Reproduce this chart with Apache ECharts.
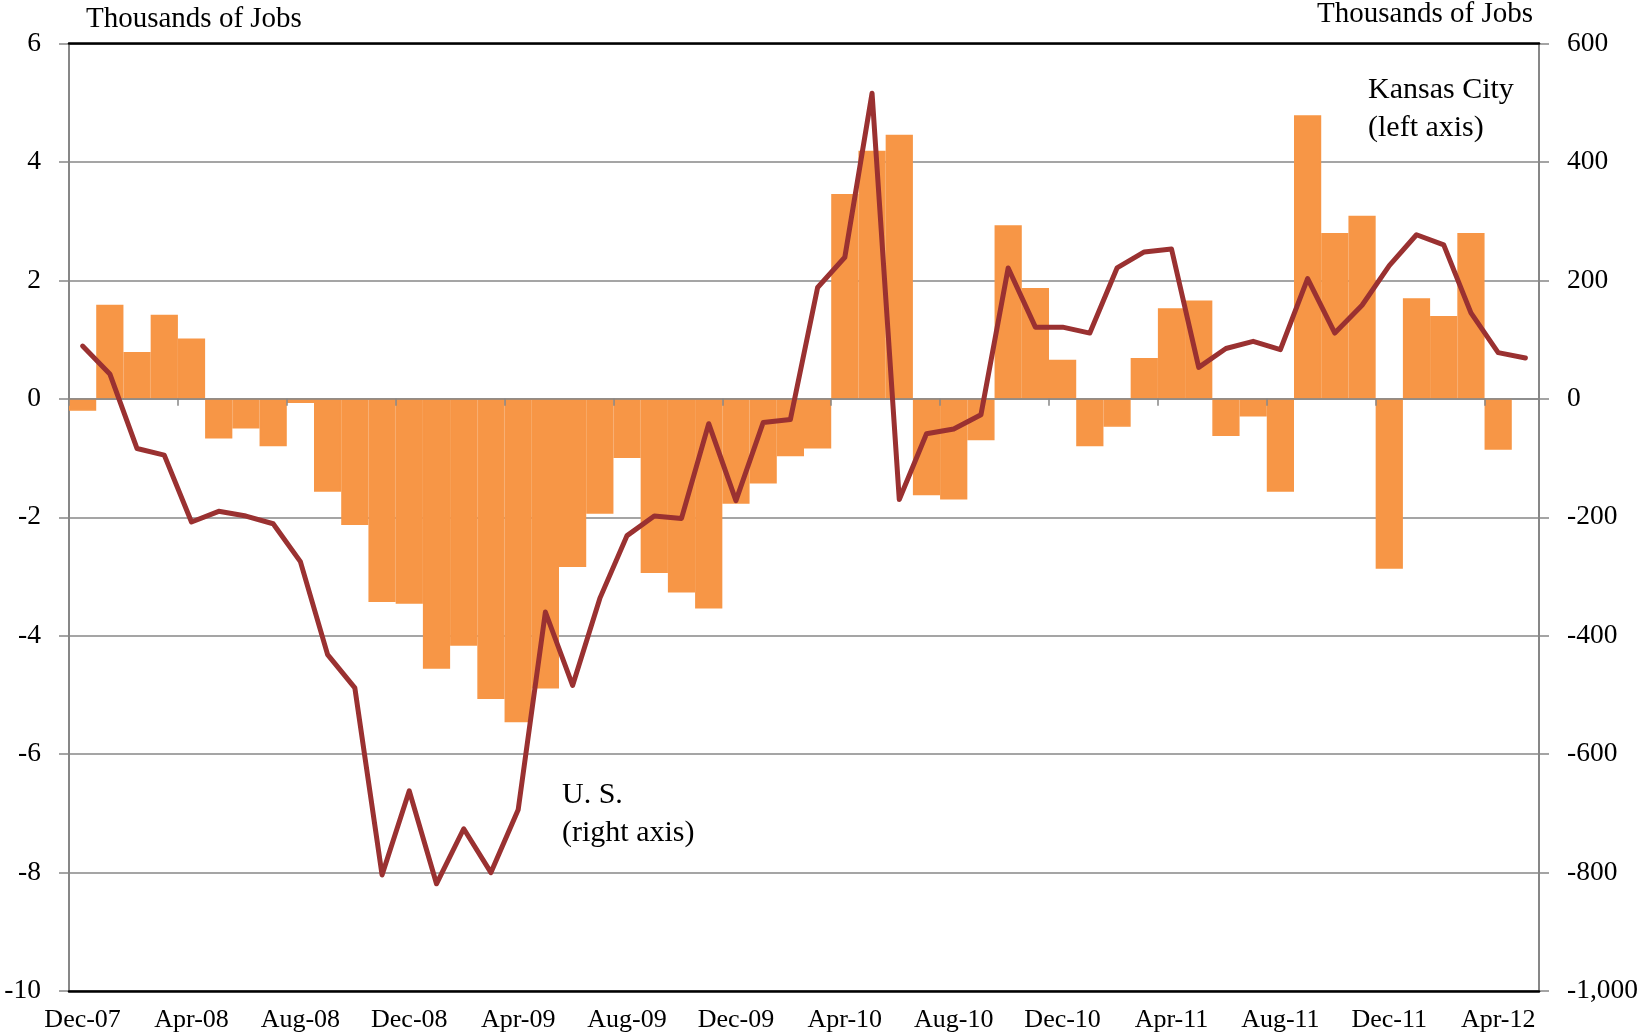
<!DOCTYPE html>
<html>
<head>
<meta charset="utf-8">
<script src="https://cdn.jsdelivr.net/npm/echarts@6/dist/echarts.min.js"></script>
<style>
  html, body { margin: 0; padding: 0; background: #fff; }
  #chart { width: 1644px; height: 1036px; }
</style>
</head>
<body>
<div id="chart"></div>
<script>
// ---- Data ----
const categories = [
  'Dec-07',
  'Jan-08','Feb-08','Mar-08','Apr-08','May-08','Jun-08','Jul-08','Aug-08','Sep-08','Oct-08','Nov-08','Dec-08',
  'Jan-09','Feb-09','Mar-09','Apr-09','May-09','Jun-09','Jul-09','Aug-09','Sep-09','Oct-09','Nov-09','Dec-09',
  'Jan-10','Feb-10','Mar-10','Apr-10','May-10','Jun-10','Jul-10','Aug-10','Sep-10','Oct-10','Nov-10','Dec-10',
  'Jan-11','Feb-11','Mar-11','Apr-11','May-11','Jun-11','Jul-11','Aug-11','Sep-11','Oct-11','Nov-11','Dec-11',
  'Jan-12','Feb-12','Mar-12','Apr-12','May-12'
];

// Kansas City, thousands of jobs (left axis) - no value for the last month
const kansasCity = [
  -0.20, 1.59, 0.79, 1.42, 1.02, -0.67, -0.50, -0.80, -0.07, -1.57,
  -2.13, -3.43, -3.46, -4.56, -4.17, -5.07, -5.46, -4.89, -2.84, -1.94,
  -1.00, -2.94, -3.27, -3.54, -1.77, -1.43, -0.97, -0.84, 3.46, 4.19,
  4.46, -1.63, -1.70, -0.70, 2.93, 1.87, 0.66, -0.80, -0.47, 0.69,
  1.53, 1.66, -0.63, -0.30, -1.57, 4.79, 2.80, 3.09, -2.87, 1.70,
  1.40, 2.80, -0.86
];

// U.S., thousands of jobs (right axis)
const unitedStates = [
  89, 42, -84, -95, -208, -190, -198, -211, -275, -432,
  -488, -804, -662, -819, -726, -800, -694, -360, -484, -337,
  -231, -198, -202, -42, -172, -40, -35, 188, 239, 516,
  -170, -59, -51, -27, 221, 121, 121, 111, 221, 248,
  253, 53, 85, 97, 83, 203, 111, 158, 225, 277,
  260, 145, 78, 69
];

const leftAxis = { min: -10, max: 6, interval: 2 };
const rightAxis = { min: -1000, max: 600, interval: 200 };

// ---- Styles ----
const FONT = "'Liberation Serif', 'Times New Roman', serif";
const GRID_GRAY = '#878787';
const BAR_COLOR = '#F79646';
const LINE_COLOR = '#9A3131';

const chart = echarts.init(document.getElementById('chart'), null, { renderer: 'canvas' });

const option = {
  backgroundColor: '#ffffff',
  animation: false,
  grid: { left: 69, right: 105, top: 42, bottom: 45, containLabel: false },
  xAxis: [
    {
      type: 'category',
      data: categories,
      position: 'bottom',
      boundaryGap: true,
      z: 6,
      axisLine: { onZero: false, lineStyle: { color: '#000', width: 2.5 } },
      axisTick: { show: false },
      axisLabel: {
        interval: 3,
        margin: 16,
        color: '#000',
        fontFamily: FONT,
        fontSize: 26
      },
      splitLine: { show: false }
    },
    {
      type: 'category',
      data: categories,
      position: 'bottom',
      boundaryGap: true,
      z: 5,
      axisLine: { onZero: true, onZeroAxisIndex: 0, lineStyle: { color: GRID_GRAY, width: 1.5 } },
      axisTick: { show: true, interval: 3, length: 7, inside: false, lineStyle: { color: GRID_GRAY, width: 1.5 } },
      axisLabel: { show: false },
      splitLine: { show: false }
    },
    {
      type: 'category',
      data: categories,
      position: 'top',
      boundaryGap: true,
      z: 6,
      axisLine: { onZero: false, lineStyle: { color: '#000', width: 2.5 } },
      axisTick: { show: false },
      axisLabel: { show: false },
      splitLine: { show: false }
    }
  ],
  yAxis: [
    {
      type: 'value',
      position: 'left',
      min: leftAxis.min,
      max: leftAxis.max,
      interval: leftAxis.interval,
      name: 'Thousands of Jobs',
      nameLocation: 'end',
      nameGap: 24,
      nameTextStyle: {
        color: '#000', fontFamily: FONT, fontSize: 29,
        align: 'left', verticalAlign: 'middle', padding: [0, 0, 0, 17]
      },
      axisLine: { show: true, lineStyle: { color: GRID_GRAY, width: 2 } },
      axisTick: { show: true, length: 10, lineStyle: { color: GRID_GRAY, width: 1.5 } },
      axisLabel: { margin: 28, color: '#000', fontFamily: FONT, fontSize: 27.5 },
      splitLine: { show: true, lineStyle: { color: GRID_GRAY, width: 1.5 } }
    },
    {
      type: 'value',
      position: 'right',
      min: rightAxis.min,
      max: rightAxis.max,
      interval: rightAxis.interval,
      name: 'Thousands of Jobs',
      nameLocation: 'end',
      nameGap: 29,
      nameTextStyle: {
        color: '#000', fontFamily: FONT, fontSize: 29,
        align: 'right', verticalAlign: 'middle', padding: [0, 6, 0, 0]
      },
      axisLine: { show: true, lineStyle: { color: GRID_GRAY, width: 2 } },
      axisTick: { show: true, length: 10, lineStyle: { color: GRID_GRAY, width: 1.5 } },
      axisLabel: {
        margin: 28, color: '#000', fontFamily: FONT, fontSize: 27.5,
        formatter: function (v) { return v.toLocaleString('en-US'); }
      },
      splitLine: { show: false }
    }
  ],
  series: [
    {
      name: 'Kansas City',
      type: 'bar',
      xAxisIndex: 0,
      yAxisIndex: 0,
      data: kansasCity,
      barCategoryGap: '0%',
      barGap: '0%',
      z: 2,
      itemStyle: { color: BAR_COLOR, borderColor: BAR_COLOR, borderWidth: 1.5 }
    },
    {
      name: 'U. S.',
      type: 'line',
      xAxisIndex: 0,
      yAxisIndex: 1,
      data: unitedStates,
      showSymbol: false,
      symbol: 'none',
      z: 8,
      lineStyle: { color: LINE_COLOR, width: 5, join: 'round', cap: 'round' }
    }
  ],
  graphic: [
    { type: 'text', left: 1368, top: 75, z: 100,
      style: { text: 'Kansas City', font: '30px ' + FONT, fill: '#000' } },
    { type: 'text', left: 1368, top: 113, z: 100,
      style: { text: '(left axis)', font: '30px ' + FONT, fill: '#000' } },
    { type: 'text', left: 562, top: 780, z: 100,
      style: { text: 'U. S.', font: '30px ' + FONT, fill: '#000' } },
    { type: 'text', left: 562, top: 818, z: 100,
      style: { text: '(right axis)', font: '30px ' + FONT, fill: '#000' } }
  ]
};

chart.setOption(option);
</script>
</body>
</html>
